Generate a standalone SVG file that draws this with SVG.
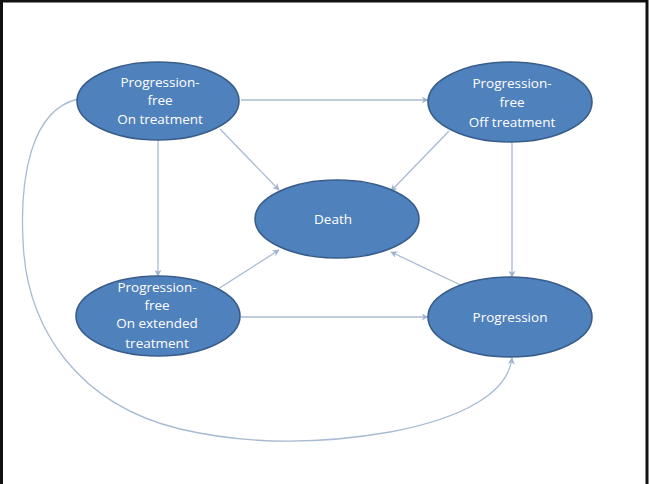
<svg xmlns="http://www.w3.org/2000/svg" width="649" height="484" viewBox="0 0 649 484">
<defs>
<marker id="ah" viewBox="0 0 10 10" refX="9" refY="5" markerWidth="7" markerHeight="7" markerUnits="userSpaceOnUse" orient="auto">
<path d="M0,0 L10,5 L0,10 L3,5 Z" fill="#9fb3cc"/>
</marker>
</defs>
<style>
.node ellipse{fill:#4f81bd;stroke:#385d8a;stroke-width:1.6}
.node text{fill:#ffffff;font-family:"Open Sans","Liberation Sans",sans-serif;font-size:13.5px;text-anchor:middle}
.conn path,.conn line{stroke:#a9bbd2;stroke-width:1.3;fill:none;marker-end:url(#ah)}
</style>
<rect x="0" y="0" width="649" height="484" fill="#ffffff"/>
<rect x="1.5" y="1" width="645.5" height="490" fill="none" stroke="#111111" stroke-width="3"/>
<g id="connectors" class="conn">
<line x1="241" y1="100" x2="428" y2="100"/>
<line x1="220" y1="129" x2="279" y2="190"/>
<line x1="449" y1="131" x2="391" y2="191"/>
<line x1="158" y1="140" x2="158" y2="276"/>
<line x1="218" y1="289" x2="279" y2="250"/>
<line x1="471" y1="290" x2="391" y2="252"/>
<line x1="512" y1="142" x2="512" y2="277"/>
<line x1="241" y1="317" x2="428" y2="317"/>
<path d="M78,99 C30,110 20,180 23,240 C26,330 80,405 180,429 C240,443 310,446 390,432 C465,418 508,392 512,358"/>
</g>
<g id="pf-on" class="node">
<ellipse cx="158" cy="101" rx="81" ry="39"/>
<text x="160" y="87">Progression-</text>
<text x="160" y="105">free</text>
<text x="160" y="124">On treatment</text>
</g>
<g id="pf-off" class="node">
<ellipse cx="510" cy="102" rx="82" ry="40"/>
<text x="512" y="88">Progression-</text>
<text x="512" y="107">free</text>
<text x="512" y="127">Off treatment</text>
</g>
<g id="death" class="node">
<ellipse cx="337" cy="219" rx="82" ry="39"/>
<text x="333" y="224">Death</text>
</g>
<g id="pf-ext" class="node">
<ellipse cx="158" cy="316" rx="82" ry="40"/>
<text x="157" y="292">Progression-</text>
<text x="157" y="310">free</text>
<text x="157" y="328">On extended</text>
<text x="157" y="348">treatment</text>
</g>
<g id="progression" class="node">
<ellipse cx="510" cy="317" rx="82" ry="40"/>
<text x="510" y="322">Progression</text>
</g>
</svg>
